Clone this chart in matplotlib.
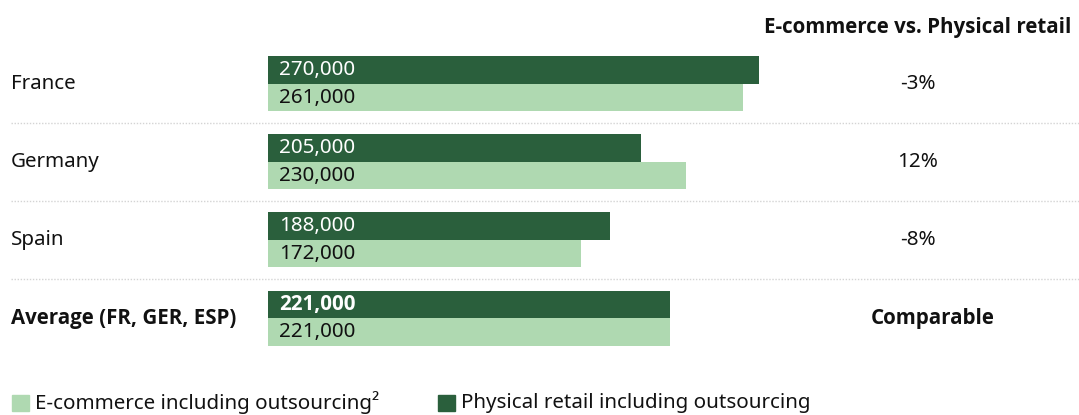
import matplotlib.pyplot as plt
import numpy as np
from matplotlib.patches import Rectangle
from matplotlib.transforms import blended_transform_factory

plt.rcParams['font.family'] = ['Noto Sans', 'DejaVu Sans']

countries = ['France', 'Germany', 'Spain', 'Average (FR, GER, ESP)']
physical = [270000, 205000, 188000, 221000]
ecommerce = [261000, 230000, 172000, 221000]
diff_labels = ['-3%', '12%', '-8%', 'Comparable']
col_title = 'E-commerce vs. Physical retail'
legend_labels = ['E-commerce including outsourcing²', 'Physical retail including outsourcing']

DARK = '#2a5f3c'
LIGHT = '#afd9b1'
INK = '#111111'
BOLD = ['Open Sans', 'DejaVu Sans']
W, H = 1079, 415

fig = plt.figure(figsize=(W / 100, H / 100), dpi=100)
ax = fig.add_axes([0, 0, 1, 1])
ax.axis('off')

# pixel layout: zero of the value axis at x=268, 1.8185 px per 1000
x0, scale = 268, 1.8185 / 1000
ax.set_xlim(-x0 / scale, (W - x0) / scale)
pitch, first = 78, 84
ax.set_ylim((H - first) / pitch, -first / pitch)

tr = blended_transform_factory(ax.transAxes, ax.transData)
px = lambda p: p / W

n = len(countries)
y = np.arange(n)
bh = 27.5 / pitch
ax.barh(y - bh / 2, physical, height=bh, color=DARK)
ax.barh(y + bh / 2, ecommerce, height=bh, color=LIGHT)

fs = 14.8
for i in range(n):
    last = i == n - 1
    kw = dict(fontweight='bold', family=BOLD) if last else {}
    ax.text(px(11), i, countries[i], transform=tr, ha='left', va='center',
            fontsize=fs, color=INK, **kw)
    ax.text(px(279), i - bh / 2, f'{physical[i]:,}', transform=tr, ha='left',
            va='center', fontsize=fs, color='white', **kw)
    ax.text(px(279), i + bh / 2, f'{ecommerce[i]:,}', transform=tr, ha='left',
            va='center', fontsize=fs, color=INK)
    ax.text(px(933 if last else 918), i, diff_labels[i], transform=tr,
            ha='center', va='center', fontsize=fs, color=INK, **kw)
    if not last:
        ax.axhline(i + 0.5, xmin=px(11), xmax=1, color='#d4d4d4',
                   linestyle=(0, (1, 1.2)), linewidth=1)

fig.text(px(1071), 1 - 27 / H, col_title, ha='right', va='center',
         fontsize=fs, fontweight='bold', family=BOLD, color=INK)

# legend row
ly = 1 - 402.5 / H
for xs, lab, c in [(12, legend_labels[0], LIGHT), (438, legend_labels[1], DARK)]:
    fig.patches.append(Rectangle((px(xs), ly - 8 / H), 17 / W, 16 / H,
                                 transform=fig.transFigure, color=c))
    fig.text(px(xs + 23), ly, lab, ha='left', va='center', fontsize=fs, color=INK)

fig.savefig('out.png', dpi=100)
